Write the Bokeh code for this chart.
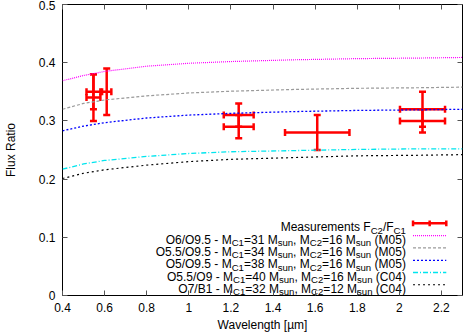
from bokeh.plotting import figure
from bokeh.models import (ColumnDataSource, Whisker, TeeHead, FixedTicker, LinearAxis,
                          Range1d, CustomJSTickFormatter)
from bokeh.core.properties import value
from bokeh.embed import file_html
from bokeh.resources import INLINE

# ---------------- data ----------------
# measurements (x, y, x error, y error)
meas_x = [0.547, 0.547, 0.61, 1.237, 1.237, 1.61, 2.11, 2.11]
meas_y = [0.35, 0.34, 0.35, 0.31, 0.29, 0.28, 0.32, 0.30]
meas_xerr = [0.033, 0.033, 0.022, 0.071, 0.071, 0.153, 0.107, 0.107]
meas_yerr = [0.03, 0.04, 0.04, 0.02, 0.02, 0.03, 0.03, 0.02]

# model curves
wl = [0.4, 0.5, 0.6, 0.8, 1.0, 1.2, 1.5, 1.8, 2.1, 2.3]
m05_31 = [0.369, 0.378, 0.385, 0.394, 0.399, 0.402, 0.405, 0.407, 0.408, 0.409]
m05_34 = [0.320, 0.330, 0.336, 0.343, 0.348, 0.351, 0.354, 0.356, 0.357, 0.358]
m05_38 = [0.283, 0.291, 0.297, 0.305, 0.310, 0.313, 0.316, 0.318, 0.319, 0.320]
c04_40 = [0.217, 0.226, 0.232, 0.239, 0.244, 0.247, 0.249, 0.251, 0.252, 0.252]
c04_32 = [0.201, 0.210, 0.216, 0.224, 0.230, 0.234, 0.237, 0.240, 0.241, 0.242]

x_ticks = [0.4, 0.6, 0.8, 1.0, 1.2, 1.4, 1.6, 1.8, 2.0, 2.2]
x_tick_labels = ["0.4", "0.6", "0.8", "1", "1.2", "1.4", "1.6", "1.8", "2", "2.2"]
y_ticks = [0, 0.1, 0.2, 0.3, 0.4, 0.5]
y_tick_labels = ["0", "0.1", "0.2", "0.3", "0.4", "0.5"]

# legend entries: list of (text run, is_subscript)
legend_meas = [("Measurements F", False), ("C2", True), ("/F", False), ("C1", True)]
legend_models = [
    [("O6/O9.5 - M", False), ("C1", True), ("=31 M", False), ("sun", True), (", M", False),
     ("C2", True), ("=16 M", False), ("sun", True), (" (M05)", False)],
    [("O5.5/O9.5 - M", False), ("C1", True), ("=34 M", False), ("sun", True), (", M", False),
     ("C2", True), ("=16 M", False), ("sun", True), (" (M05)", False)],
    [("O5/O9.5 - M", False), ("C1", True), ("=38 M", False), ("sun", True), (", M", False),
     ("C2", True), ("=16 M", False), ("sun", True), (" (M05)", False)],
    [("O5.5/O9 - M", False), ("C1", True), ("=40 M", False), ("sun", True), (", M", False),
     ("C2", True), ("=16 M", False), ("sun", True), (" (C04)", False)],
    [("O7/B1 - M", False), ("C1", True), ("=32 M", False), ("sun", True), (", M", False),
     ("C2", True), ("=12 M", False), ("sun", True), (" (C04)", False)],
]

# ---------------- styles ----------------
FONT = "Liberation Sans"
FS = 12.0
SUB = 0.8 * FS
model_series = [m05_31, m05_34, m05_38, c04_40, c04_32]
model_styles = [
    dict(line_color="#ff00ff", line_dash="1 1", line_width=1.2),
    dict(line_color="#9a9a9a", line_dash="3 2", line_width=1.2),
    dict(line_color="#0000ff", line_dash="2 2", line_width=1.3),
    dict(line_color="#00e5ee", line_dash="5 2 1 2", line_width=1.3),
    dict(line_color="#000000", line_dash="2 3", line_width=1.2),
]

# Helvetica / Arial (Liberation Sans) advance widths per 1000 em
W = {' ': 278, '(': 333, ')': 333, ',': 278, '-': 333, '.': 278, '/': 278, '=': 584,
     'B': 667, 'C': 722, 'F': 611, 'M': 833, 'O': 778, 'a': 556, 'e': 556, 'm': 833,
     'n': 556, 'r': 333, 's': 500, 't': 278, 'u': 556}
for d in "0123456789":
    W[d] = 556


def text_w(s, size):
    return sum(W.get(ch, 556) for ch in s) * size / 1000.0


p = figure(width=463, height=334, x_range=Range1d(0.4, 2.3), y_range=Range1d(0, 0.5),
           output_backend="svg", toolbar_location=None,
           min_border_left=55, min_border_right=1, min_border_top=4, min_border_bottom=39)
p.grid.visible = False
p.outline_line_color = "black"
p.outline_line_width = 1
p.background_fill_color = "white"
p.border_fill_color = "white"

for ax in (p.xaxis[0], p.yaxis[0]):
    ax.axis_line_color = None
    ax.major_tick_in = 5
    ax.major_tick_out = 0
    ax.major_tick_line_color = "#555555"
    ax.minor_tick_line_color = None
    ax.major_label_text_font = FONT
    ax.major_label_text_font_size = "12px"
    ax.major_label_text_color = "black"
    ax.axis_label_text_font = FONT
    ax.axis_label_text_font_size = "12px"
    ax.axis_label_text_font_style = "normal"
    ax.axis_label_text_color = "black"

p.xaxis[0].ticker = FixedTicker(ticks=x_ticks)
p.xaxis[0].major_label_overrides = dict(zip(x_ticks, x_tick_labels))
p.xaxis[0].major_label_standoff = 7
p.xaxis[0].axis_label = "Wavelength [µm]"
p.xaxis[0].axis_label_standoff = 3
p.yaxis[0].ticker = FixedTicker(ticks=y_ticks)
p.yaxis[0].major_label_overrides = dict(zip(y_ticks, y_tick_labels))
p.yaxis[0].major_label_standoff = 7
p.yaxis[0].axis_label = "Flux Ratio"
p.yaxis[0].axis_label_standoff = 18

# mirrored ticks on top and right
blank = CustomJSTickFormatter(code="return ''")
top_ax = LinearAxis(ticker=FixedTicker(ticks=x_ticks), formatter=blank, major_tick_in=5,
                    major_tick_out=0, minor_tick_line_color=None, axis_line_color=None,
                    major_tick_line_color="#555555", major_label_standoff=0)
right_ax = LinearAxis(ticker=FixedTicker(ticks=y_ticks), formatter=blank, major_tick_in=5,
                      major_tick_out=0, minor_tick_line_color=None, axis_line_color=None,
                      major_tick_line_color="#555555", major_label_standoff=0)
p.add_layout(top_ax, "above")
p.add_layout(right_ax, "right")

# model curves
for ys, st in zip(model_series, model_styles):
    p.line(wl, ys, **st)

# measurements
src = ColumnDataSource(dict(
    x=meas_x, y=meas_y,
    xl=[a - b for a, b in zip(meas_x, meas_xerr)], xu=[a + b for a, b in zip(meas_x, meas_xerr)],
    yl=[a - b for a, b in zip(meas_y, meas_yerr)], yu=[a + b for a, b in zip(meas_y, meas_yerr)],
))
RED = "#ff0000"
for dim, base, lo, hi in (("height", "x", "yl", "yu"), ("width", "y", "xl", "xu")):
    wk = Whisker(source=src, base=base, lower=lo, upper=hi, dimension=dim,
                 line_color=RED, line_width=2.5,
                 upper_head=TeeHead(size=7, line_color=RED, line_width=2.5),
                 lower_head=TeeHead(size=7, line_color=RED, line_width=2.5))
    p.add_layout(wk)

# ---------------- legend (manual, with subscripts) ----------------
LX_TEXT = 2.031
LX0, LX1 = 2.065, 2.223
row_y = [0.124, 0.103, 0.082, 0.0605, 0.0395, 0.0185]
entries = [legend_meas] + legend_models

main = dict(x=[], y=[], text=[], xo=[], yo=[])
subs = dict(x=[], y=[], text=[], xo=[], yo=[])
for ry, runs in zip(row_y, entries):
    total = sum(text_w(t, SUB if s else FS) for t, s in runs)
    cur = -total
    for t, s in runs:
        size = SUB if s else FS
        stripped = t.lstrip(" ")
        lead = text_w(t[:len(t) - len(stripped)], size)
        d = subs if s else main
        d["x"].append(LX_TEXT)
        d["y"].append(ry)
        d["text"].append(stripped)
        d["xo"].append(cur + lead)
        d["yo"].append(7 if s else 4)
        cur += text_w(t, size)

p.text(x="x", y="y", text="text", x_offset="xo", y_offset="yo",
       source=ColumnDataSource(main), text_font=value(FONT), text_font_size="12px",
       text_align="left", text_baseline="alphabetic", text_color="black")
p.text(x="x", y="y", text="text", x_offset="xo", y_offset="yo",
       source=ColumnDataSource(subs), text_font=value(FONT), text_font_size="9.6px",
       text_align="left", text_baseline="alphabetic", text_color="black")

# legend samples
p.segment(x0=[LX0], y0=[row_y[0]], x1=[LX1], y1=[row_y[0]], line_color=RED, line_width=2.5)
cap = 0.005
p.segment(x0=[LX0, (LX0 + LX1) / 2, LX1], y0=[row_y[0] - cap] * 3,
          x1=[LX0, (LX0 + LX1) / 2, LX1], y1=[row_y[0] + cap] * 3,
          line_color=RED, line_width=2.5)
for ry, st in zip(row_y[1:], model_styles):
    p.line([LX0, LX1], [ry, ry], **st)

open("out.html", "w").write(file_html(p, INLINE))
